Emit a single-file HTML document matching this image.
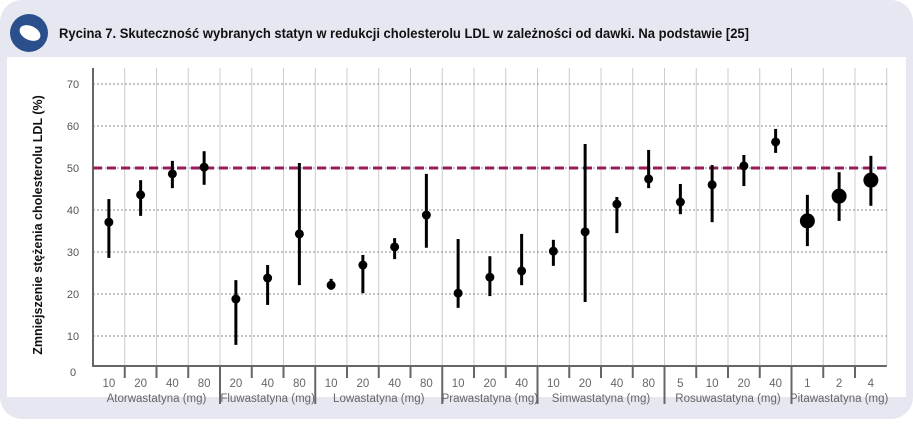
<!DOCTYPE html>
<html><head><meta charset="utf-8"><style>
body{margin:0;width:913px;height:419px;background:#fff;font-family:"Liberation Sans",sans-serif;overflow:hidden}
</style></head><body>
<svg width="913" height="419" xmlns="http://www.w3.org/2000/svg">
<rect x="0" y="0" width="913" height="419" rx="22" fill="#e6e7f1"/>
<rect x="7" y="57" width="899" height="340" fill="#fff"/>
<g>
<circle cx="29" cy="33" r="19" fill="#2a4f8c"/>
<ellipse cx="30" cy="33" rx="11" ry="7" fill="#fff" transform="rotate(25 30 33)"/>
</g>
<text x="59" y="38" font-size="13.5" font-weight="bold" fill="#111" textLength="690" lengthAdjust="spacingAndGlyphs">Rycina 7. Skuteczność wybranych statyn w redukcji cholesterolu LDL w zależności od dawki. Na podstawie [25]</text>
<text transform="translate(42 225) rotate(-90)" text-anchor="middle" font-size="12.5" font-weight="bold" fill="#111">Zmniejszenie stężenia cholesterolu LDL (%)</text>
<g id="g"></g>
</svg>
<script>
const doses=["10","20","40","80","20","40","80","10","20","40","80","10","20","40","10","20","40","80","5","10","20","40","1","2","4"];
const means=[37.1,43.6,48.6,50.2,18.8,23.8,34.3,22.1,26.9,31.2,38.8,20.2,24,25.5,30.2,34.8,41.4,47.4,41.9,46,50.5,56.2,37.4,43.3,47.1];
const lows=[28.6,38.6,45.2,46,7.9,17.4,22.1,21,20.2,28.3,31,16.7,19.5,22.1,26.7,18.1,34.5,45.2,39,37.1,45.7,53.6,31.4,37.4,41];
const highs=[42.6,47.1,51.7,54,23.3,26.9,51.2,23.6,29.3,33.3,48.6,33.1,29,34.3,32.9,55.7,43.1,54.3,46.2,50.7,53.1,59.3,43.6,49,52.9];
const groups=["Atorwastatyna (mg)","Fluwastatyna (mg)","Lowastatyna (mg)","Prawastatyna (mg)","Simwastatyna (mg)","Rosuwastatyna (mg)","Pitawastatyna (mg)"];
const groupSizes=[4,3,4,3,4,4,3];
const yTicks=[0,10,20,30,40,50,60,70];
const refLine=50;
const X0=93,CW=31.75,Y0=378,PY=4.2,AXY=366;
const x=i=>X0+CW*(i+0.5), y=v=>Y0-v*PY;
const g=document.getElementById('g');const NS="http://www.w3.org/2000/svg";
function el(t,a,txt){const e=document.createElementNS(NS,t);for(const k in a)e.setAttribute(k,a[k]);if(txt!==undefined)e.textContent=txt;g.appendChild(e);return e;}
const XR=X0+CW*doses.length;
for(let i=1;i<=doses.length;i++){const xx=X0+CW*i;
 const l=el('line',{x1:xx,x2:xx,y1:68,y2:AXY,stroke:'#ccc','stroke-width':1});
 
 }
yTicks.forEach(v=>{
 if(v>0){const l=el('line',{x1:X0,x2:XR,y1:y(v),y2:y(v),stroke:'#888','stroke-dasharray':'2,2','stroke-width':1});
 
 }
 const ty=v===0?AXY+10:y(v)+4;
 const t=el('text',{x:73,y:ty,'text-anchor':'middle','font-size':11,fill:'#555'},v);
 
 
});
const ax=el('line',{x1:X0,x2:X0,y1:68,y2:AXY+1,stroke:'#666','stroke-width':2});


const bx=el('line',{x1:X0,x2:XR,y1:AXY,y2:AXY,stroke:'#666','stroke-width':2});


const rl=el('line',{x1:X0,x2:XR,y1:y(refLine),y2:y(refLine),stroke:'#9b1b5a','stroke-width':3,'stroke-dasharray':'9,5'});


let start=0;
groupSizes.forEach((n,gi)=>{
 const cx=X0+CW*(start+n/2);
 const t=el('text',{x:cx,y:402,'text-anchor':'middle','font-size':11.5,fill:'#666'},groups[gi]);
 
 
 for(let k=1;k<n;k++){const xx=X0+CW*(start+k);
  const tk=el('line',{x1:xx,x2:xx,y1:AXY,y2:378,stroke:'#666','stroke-width':2});
  
  }
 start+=n;
 if(gi<groupSizes.length-1){const xx=X0+CW*start;
  const tk=el('line',{x1:xx,x2:xx,y1:AXY,y2:404,stroke:'#666','stroke-width':2});
  
  }
});
doses.forEach((d,i)=>{
 const t=el('text',{x:x(i),y:387,'text-anchor':'middle','font-size':11.5,fill:'#666'},d);
 
 
 const l=el('line',{x1:x(i),x2:x(i),y1:y(lows[i]),y2:y(highs[i]),stroke:'#000','stroke-width':3});
 
 
 const c=el('circle',{cx:x(i),cy:y(means[i]),r:i>=22?7.5:4.5,fill:'#000'});
 
 
});
</script>
</body></html>
